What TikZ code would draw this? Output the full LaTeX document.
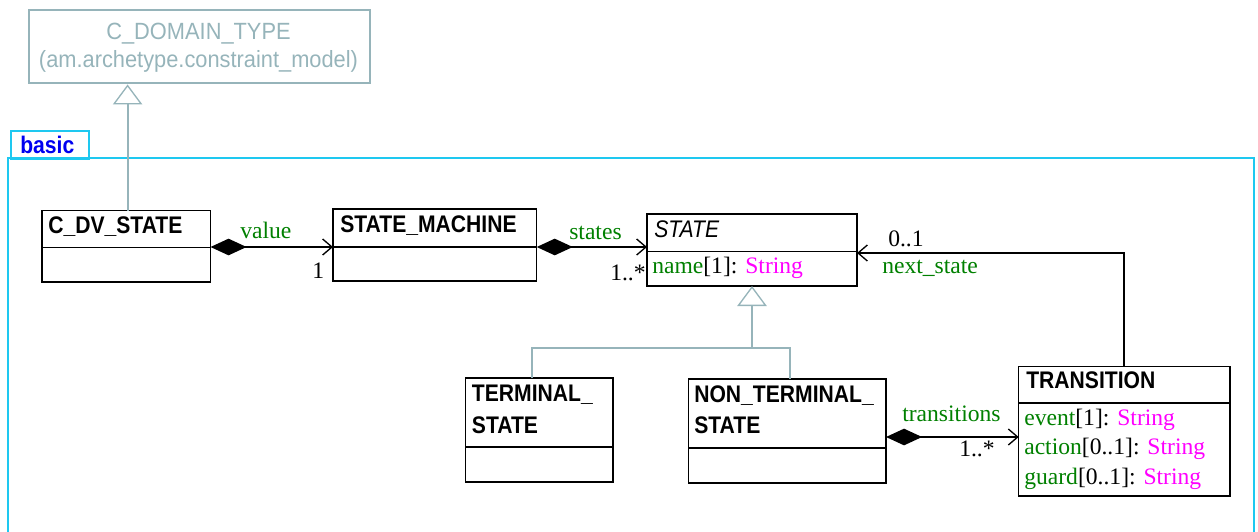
\documentclass[tikz,border=0pt]{standalone}
\usepackage{fontspec}
\setmainfont{Liberation Serif}
\newfontfamily\nsans[FakeStretch=0.88]{Liberation Sans}
\newfontfamily\gsans[FakeStretch=0.93]{Liberation Sans}
\usetikzlibrary{arrows.meta}
\definecolor{gline}{RGB}{150,180,186}
\definecolor{pkgcyan}{RGB}{30,200,240}
\definecolor{pkgblue}{RGB}{0,0,240}
\definecolor{attrgreen}{RGB}{0,128,0}
\definecolor{typemag}{RGB}{255,0,255}
\begin{document}
\begin{tikzpicture}[x=0.75pt,y=-0.75pt,
  cls/.style={draw=black, line width=1pt, inner sep=0pt, outer sep=0pt, anchor=north west},
  divline/.style={draw=black, line width=1pt},
  title/.style={font=\nsans\bfseries\fontsize{18}{22}\selectfont, anchor=base west, inner sep=0pt},
  ititle/.style={font=\nsans\itshape\fontsize{18}{22}\selectfont, anchor=base west, inner sep=0pt},
  attr/.style={font=\fontsize{17.7}{21}\selectfont, anchor=base west, inner sep=0pt},
  lbl/.style={font=\fontsize{17.7}{21}\selectfont, anchor=base west, inner sep=0pt},
  glbl/.style={lbl, text=attrgreen},
  assoc/.style={line width=1.5pt, {Diamond[length=27pt,width=12.5pt]}-{Straight Barb[length=7pt,width=12pt,line width=1pt]}},
  nav/.style={line width=1.5pt, -{Straight Barb[length=7pt,width=12pt,line width=1pt]}},
  gen/.style={draw=gline, line width=1.5pt},
  genhead/.style={-{Triangle[open,length=15pt,width=22pt,line width=1pt]}},
  pkg/.style={draw=pkgcyan, line width=1.5pt},
]
\useasboundingbox (0,0) rectangle (1258,532);

% package frame
\draw[pkg] (8,545) |- (1254,158) -- (1254,545);
\node[pkg, anchor=north west, minimum width=58.5pt, minimum height=21pt, inner sep=0pt] (tab) at (9.5,130) {};
\node[font=\nsans\bfseries\fontsize{18}{22}\selectfont, text=pkgblue, anchor=base west, inner sep=0pt] (tabtxt) at (20,153) {basic};

% external class
\node[draw=gline, line width=1.5pt, inner sep=0pt, anchor=north west, minimum width=255.75pt, minimum height=55.1pt] (cdt) at (28,9) {};
\node[font=\gsans\fontsize{17.6}{22}\selectfont, text=gline, anchor=base, inner sep=0pt] (cdt1) at (198.5,39.5) {C\_DOMAIN\_TYPE};
\node[font=\gsans\fontsize{17.6}{22}\selectfont, text=gline, anchor=base, inner sep=0pt] (cdt2) at (198.5,67) {(am.archetype.constraint\_model)};

% classes
\node[cls, minimum width=126.4pt, minimum height=53.6pt] (cdv) at (42,210.5) {};
\draw[divline] (cdv.west |- 0,247.7) -- (cdv.east |- 0,247.7);
\node[title] (cdvT) at (48,233) {C\_DV\_STATE};

\node[cls, minimum width=152.8pt, minimum height=54pt] (sm) at (333,209) {};
\draw[divline] (sm.west |- 0,247) -- (sm.east |- 0,247);
\node[title] (smT) at (340,232) {STATE\_MACHINE};

\node[cls, minimum width=157.5pt, minimum height=54pt] (state) at (647,214) {};
\draw[divline] (state.west |- 0,251.7) -- (state.east |- 0,251.7);
\node[ititle] (stateT) at (654,237) {STATE};
\node[attr] (stateA) at (652,273.3) {\textcolor{attrgreen}{name}[1]: \textcolor{typemag}{String}};

\node[cls, minimum width=110.5pt, minimum height=78pt] (term) at (465.7,378) {};
\draw[divline] (term.west |- 0,447) -- (term.east |- 0,447);
\node[title] (termT1) at (471.7,401.7) {TERMINAL\_};
\node[title] (termT2) at (471.7,433) {STATE};

\node[cls, minimum width=148pt, minimum height=78pt] (nonterm) at (688.7,379) {};
\draw[divline] (nonterm.west |- 0,448) -- (nonterm.east |- 0,448);
\node[title] (ntT1) at (694,402) {NON\_TERMINAL\_};
\node[title] (ntT2) at (694,433.5) {STATE};

\node[cls, minimum width=158.5pt, minimum height=97pt] (trans) at (1018.7,366.7) {};
\draw[divline] (trans.west |- 0,403) -- (trans.east |- 0,403);
\node[title] (transT) at (1026,388) {TRANSITION};
\node[attr] (transA1) at (1024,425) {\textcolor{attrgreen}{event}[1]: \textcolor{typemag}{String}};
\node[attr] (transA2) at (1024,454.5) {\textcolor{attrgreen}{action}[0..1]: \textcolor{typemag}{String}};
\node[attr] (transA3) at (1024,484) {\textcolor{attrgreen}{guard}[0..1]: \textcolor{typemag}{String}};

% generalisations
\draw[gen, genhead] ([xshift=1pt]cdv.north) -- ([xshift=1pt]cdv.north |- cdt.south);
\coordinate (gj) at (state.south |- 0,348);
\draw[gen] ([xshift=-5.5pt]term.north) |- (gj) -| ([xshift=2pt]nonterm.north);
\draw[gen, genhead] (gj) -- (state.south);

% associations
\draw[assoc] (cdv.east |- 0,247) -- (sm.west |- 0,247);
\node[glbl] (valL) at (240,238) {value};
\node[lbl] (valM) at (312,278) {1};

\draw[assoc] (sm.east |- 0,247) -- (state.west |- 0,247);
\node[glbl] (stL) at (569,239) {states};
\node[lbl] (stM) at (610,280) {1..*};

\draw[nav] (trans.north) |- (state.east |- 0,253);
\node[lbl] (nsM) at (888,246.7) {0..1};
\node[glbl] (nsL) at (882,273) {next\_state};

\draw[assoc] (nonterm.east |- 0,437) -- (trans.west |- 0,437);
\node[glbl] (trL) at (902,421.7) {transitions};
\node[lbl] (trM) at (959,456.7) {1..*};
\end{tikzpicture}
\end{document}
